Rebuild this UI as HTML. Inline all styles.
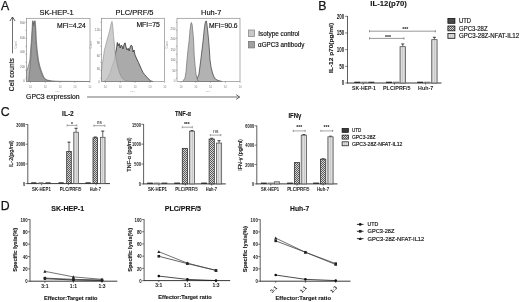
<!DOCTYPE html>
<html><head><meta charset="utf-8"><style>
html,body{margin:0;padding:0;background:#fff;width:520px;height:302px;overflow:hidden}
svg{display:block;will-change:transform;filter:blur(0.3px)}
text{font-family:"Liberation Sans", sans-serif;}
</style></head><body>
<svg width="520" height="302" viewBox="0 0 520 302">
<defs>
<pattern id="hatch" width="2" height="2" patternUnits="userSpaceOnUse">
<rect width="2" height="2" fill="#d6d6d6"/><rect width="1" height="1" fill="#5a5a5a"/><rect x="1" y="1" width="1" height="1" fill="#5a5a5a"/>
</pattern>
<pattern id="lite" width="2" height="2" patternUnits="userSpaceOnUse">
<rect width="2" height="2" fill="#dedede"/><rect width="0.7" height="2" fill="#c2c2c2"/>
</pattern>
</defs>
<rect width="520" height="302" fill="#fff"/>
<text x="1.0" y="10.1" font-size="12.3" text-anchor="start" fill="#151515" stroke="#151515" stroke-width="0.25">A</text>
<text x="56.6" y="15.0" font-size="7.7" text-anchor="middle" fill="#151515" textLength="34.3" lengthAdjust="spacingAndGlyphs" stroke="#151515" stroke-width="0.18">SK-HEP-1</text>
<text x="134.5" y="15.0" font-size="7.7" text-anchor="middle" fill="#151515" textLength="38.0" lengthAdjust="spacingAndGlyphs" stroke="#151515" stroke-width="0.18">PLC/PRF/5</text>
<text x="211.2" y="14.8" font-size="7.7" text-anchor="middle" fill="#151515" textLength="20.2" lengthAdjust="spacingAndGlyphs" stroke="#151515" stroke-width="0.18">Huh-7</text>
<polygon points="26.5,81.5 26.5,71 27.5,69 28.7,65 29.9,60 30.6,50 31.4,40 32,30 32.5,22 32.9,20.6 33.5,24 34.3,22 35,20.6 35.5,24 35.9,30 36.3,40 37.2,50 38.5,60 39.5,65 41,70 42.5,74 44.3,78 47,80 52,81 60,81.3 89.5,81.5" fill="#bdbdbd" stroke="#6a6a6a" stroke-width="0.7" fill-opacity="1" stroke-linejoin="round"/>
<polygon points="28.5,81.5 29.5,72 30.5,62 31.2,50 31.9,40 32.5,30 32.9,21.5 33.4,26 34.1,23 34.8,21.5 35.3,28 35.8,40 36.6,50 37.8,60 39.5,67 41,72 43,77 46,80 50,81 55,81.5" fill="#9a9a9a" stroke="#555" stroke-width="0.5" fill-opacity="1" stroke-linejoin="round"/>
<polygon points="103.5,81.5 106,80 108,77 110.3,72 112.3,66 114.2,60 115.4,54 116.6,48 117.3,42.5 118.2,46 119.2,43.5 120.2,48 121.2,45 122,45.9 123,49 124.2,44 125.1,42.8 126,47 127,50 128.2,48.2 129.2,51 130.2,47 131.2,45.1 132.1,46 133,52 134,50 135,55 136.8,59.1 138.5,62.5 140,66 141.4,69.2 143,72.5 144.5,74.5 146.1,76.2 148,78.5 150.8,81 153,81.5" fill="#aaaaaa" stroke="#333333" stroke-width="0.8" fill-opacity="1" stroke-linejoin="round"/>
<polygon points="101.5,81.5 101.5,70 103,60 104.4,50 106,44 107.6,38 109,33 109.8,30 111,24 112,21.4 112.8,26 113.5,35.6 114.2,42 114.8,49.7 116.4,60.7 118,68 120,74 122,78 125,80.5 130,81.5" fill="#c4c4c4" stroke="#8a8a8a" stroke-width="0.6" fill-opacity="0.85" stroke-linejoin="round"/>
<polygon points="194,81.5 197,79 199,74 200,66 200.8,60 202,50 203.2,40 204.2,30 205,24 205.6,21.4 206.4,21 207,25 207.8,32 208.6,40 209.4,50 210,60 211,67 212.5,73 214,77 215.4,79 218,80.5 222,81.5" fill="#b2b2b2" stroke="#4a4a4a" stroke-width="0.8" fill-opacity="1" stroke-linejoin="round"/>
<polygon points="182.6,81.5 185,78 186,72 187,60 188,50 189.2,40 190,30 190.8,24 191.4,22.5 192.2,25 192.9,32 193.6,40 194.2,55 195,65 196,74 196.8,78 198,81 200,81.5" fill="#b8b8b8" stroke="#707070" stroke-width="0.7" fill-opacity="1" stroke-linejoin="round"/>
<rect x="26.5" y="18.3" width="63.5" height="63.2" fill="none" stroke="#8a8a8a" stroke-width="0.7"/>
<line x1="25.3" y1="22.3" x2="26.5" y2="22.3" stroke="#777" stroke-width="0.5"/>
<line x1="25.3" y1="30.3" x2="26.5" y2="30.3" stroke="#777" stroke-width="0.5"/>
<line x1="25.3" y1="38.3" x2="26.5" y2="38.3" stroke="#777" stroke-width="0.5"/>
<line x1="25.3" y1="46.3" x2="26.5" y2="46.3" stroke="#777" stroke-width="0.5"/>
<line x1="25.3" y1="54.3" x2="26.5" y2="54.3" stroke="#777" stroke-width="0.5"/>
<line x1="25.3" y1="62.3" x2="26.5" y2="62.3" stroke="#777" stroke-width="0.5"/>
<line x1="25.3" y1="70.3" x2="26.5" y2="70.3" stroke="#777" stroke-width="0.5"/>
<line x1="25.3" y1="78.3" x2="26.5" y2="78.3" stroke="#777" stroke-width="0.5"/>
<line x1="30.5" y1="81.5" x2="30.5" y2="82.9" stroke="#777" stroke-width="0.5"/>
<text x="30.5" y="87.8" font-size="2.8" text-anchor="middle" fill="#888">10</text>
<line x1="45.3" y1="81.5" x2="45.3" y2="82.9" stroke="#777" stroke-width="0.5"/>
<text x="45.3" y="87.8" font-size="2.8" text-anchor="middle" fill="#888">10</text>
<line x1="60.1" y1="81.5" x2="60.1" y2="82.9" stroke="#777" stroke-width="0.5"/>
<text x="60.1" y="87.8" font-size="2.8" text-anchor="middle" fill="#888">10</text>
<line x1="74.9" y1="81.5" x2="74.9" y2="82.9" stroke="#777" stroke-width="0.5"/>
<text x="74.9" y="87.8" font-size="2.8" text-anchor="middle" fill="#888">10</text>
<line x1="89.7" y1="81.5" x2="89.7" y2="82.9" stroke="#777" stroke-width="0.5"/>
<text x="89.7" y="87.8" font-size="2.8" text-anchor="middle" fill="#888">10</text>
<text x="58.25" y="92.3" font-size="2.4" text-anchor="middle" fill="#999">FS-A</text>
<rect x="101.5" y="18.3" width="63.0" height="63.2" fill="none" stroke="#8a8a8a" stroke-width="0.7"/>
<line x1="100.3" y1="22.3" x2="101.5" y2="22.3" stroke="#777" stroke-width="0.5"/>
<line x1="100.3" y1="30.3" x2="101.5" y2="30.3" stroke="#777" stroke-width="0.5"/>
<line x1="100.3" y1="38.3" x2="101.5" y2="38.3" stroke="#777" stroke-width="0.5"/>
<line x1="100.3" y1="46.3" x2="101.5" y2="46.3" stroke="#777" stroke-width="0.5"/>
<line x1="100.3" y1="54.3" x2="101.5" y2="54.3" stroke="#777" stroke-width="0.5"/>
<line x1="100.3" y1="62.3" x2="101.5" y2="62.3" stroke="#777" stroke-width="0.5"/>
<line x1="100.3" y1="70.3" x2="101.5" y2="70.3" stroke="#777" stroke-width="0.5"/>
<line x1="100.3" y1="78.3" x2="101.5" y2="78.3" stroke="#777" stroke-width="0.5"/>
<line x1="105.5" y1="81.5" x2="105.5" y2="82.9" stroke="#777" stroke-width="0.5"/>
<text x="105.5" y="87.8" font-size="2.8" text-anchor="middle" fill="#888">10</text>
<line x1="120.3" y1="81.5" x2="120.3" y2="82.9" stroke="#777" stroke-width="0.5"/>
<text x="120.3" y="87.8" font-size="2.8" text-anchor="middle" fill="#888">10</text>
<line x1="135.1" y1="81.5" x2="135.1" y2="82.9" stroke="#777" stroke-width="0.5"/>
<text x="135.1" y="87.8" font-size="2.8" text-anchor="middle" fill="#888">10</text>
<line x1="149.9" y1="81.5" x2="149.9" y2="82.9" stroke="#777" stroke-width="0.5"/>
<text x="149.9" y="87.8" font-size="2.8" text-anchor="middle" fill="#888">10</text>
<line x1="164.7" y1="81.5" x2="164.7" y2="82.9" stroke="#777" stroke-width="0.5"/>
<text x="164.7" y="87.8" font-size="2.8" text-anchor="middle" fill="#888">10</text>
<text x="133.0" y="92.3" font-size="2.4" text-anchor="middle" fill="#999">FS-A</text>
<rect x="177.0" y="18.3" width="63.0" height="63.2" fill="none" stroke="#8a8a8a" stroke-width="0.7"/>
<line x1="175.8" y1="22.3" x2="177.0" y2="22.3" stroke="#777" stroke-width="0.5"/>
<line x1="175.8" y1="30.3" x2="177.0" y2="30.3" stroke="#777" stroke-width="0.5"/>
<line x1="175.8" y1="38.3" x2="177.0" y2="38.3" stroke="#777" stroke-width="0.5"/>
<line x1="175.8" y1="46.3" x2="177.0" y2="46.3" stroke="#777" stroke-width="0.5"/>
<line x1="175.8" y1="54.3" x2="177.0" y2="54.3" stroke="#777" stroke-width="0.5"/>
<line x1="175.8" y1="62.3" x2="177.0" y2="62.3" stroke="#777" stroke-width="0.5"/>
<line x1="175.8" y1="70.3" x2="177.0" y2="70.3" stroke="#777" stroke-width="0.5"/>
<line x1="175.8" y1="78.3" x2="177.0" y2="78.3" stroke="#777" stroke-width="0.5"/>
<line x1="181.0" y1="81.5" x2="181.0" y2="82.9" stroke="#777" stroke-width="0.5"/>
<text x="181.0" y="87.8" font-size="2.8" text-anchor="middle" fill="#888">10</text>
<line x1="195.8" y1="81.5" x2="195.8" y2="82.9" stroke="#777" stroke-width="0.5"/>
<text x="195.8" y="87.8" font-size="2.8" text-anchor="middle" fill="#888">10</text>
<line x1="210.6" y1="81.5" x2="210.6" y2="82.9" stroke="#777" stroke-width="0.5"/>
<text x="210.6" y="87.8" font-size="2.8" text-anchor="middle" fill="#888">10</text>
<line x1="225.4" y1="81.5" x2="225.4" y2="82.9" stroke="#777" stroke-width="0.5"/>
<text x="225.4" y="87.8" font-size="2.8" text-anchor="middle" fill="#888">10</text>
<line x1="240.2" y1="81.5" x2="240.2" y2="82.9" stroke="#777" stroke-width="0.5"/>
<text x="240.2" y="87.8" font-size="2.8" text-anchor="middle" fill="#888">10</text>
<text x="208.5" y="92.3" font-size="2.4" text-anchor="middle" fill="#999">FS-A</text>
<text x="24.9" y="24.0" font-size="2.9" text-anchor="end" fill="#666">800</text>
<text x="24.9" y="38.5" font-size="2.9" text-anchor="end" fill="#666">600</text>
<text x="24.9" y="53.0" font-size="2.9" text-anchor="end" fill="#666">400</text>
<text x="24.9" y="67.5" font-size="2.9" text-anchor="end" fill="#666">200</text>
<text x="24.9" y="82.0" font-size="2.9" text-anchor="end" fill="#666">0</text>
<text x="17.0" y="45" font-size="2.6" text-anchor="middle" fill="#999" transform="rotate(-90 17.0 45)">Count</text>
<text x="99.9" y="31.0" font-size="2.9" text-anchor="end" fill="#666">120</text>
<text x="99.9" y="44.4" font-size="2.9" text-anchor="end" fill="#666">90</text>
<text x="99.9" y="57.0" font-size="2.9" text-anchor="end" fill="#666">60</text>
<text x="99.9" y="70.0" font-size="2.9" text-anchor="end" fill="#666">30</text>
<text x="99.9" y="82.6" font-size="2.9" text-anchor="end" fill="#666">0</text>
<text x="92.0" y="45" font-size="2.6" text-anchor="middle" fill="#999" transform="rotate(-90 92.0 45)">Count</text>
<text x="175.4" y="29.8" font-size="2.9" text-anchor="end" fill="#666">250</text>
<text x="175.4" y="40.3" font-size="2.9" text-anchor="end" fill="#666">200</text>
<text x="175.4" y="50.7" font-size="2.9" text-anchor="end" fill="#666">150</text>
<text x="175.4" y="61.2" font-size="2.9" text-anchor="end" fill="#666">100</text>
<text x="175.4" y="71.7" font-size="2.9" text-anchor="end" fill="#666">50</text>
<text x="175.4" y="82.1" font-size="2.9" text-anchor="end" fill="#666">0</text>
<text x="167.5" y="45" font-size="2.6" text-anchor="middle" fill="#999" transform="rotate(-90 167.5 45)">Count</text>
<text x="57.1" y="27.5" font-size="6.9" text-anchor="start" fill="#151515" textLength="28.8" lengthAdjust="spacingAndGlyphs" stroke="#151515" stroke-width="0.18">MFI=4.24</text>
<text x="136.4" y="27.4" font-size="6.9" text-anchor="start" fill="#151515" textLength="23.4" lengthAdjust="spacingAndGlyphs" stroke="#151515" stroke-width="0.18">MFI=75</text>
<text x="209.0" y="27.7" font-size="6.9" text-anchor="start" fill="#151515" textLength="28.6" lengthAdjust="spacingAndGlyphs" stroke="#151515" stroke-width="0.18">MFI=90.6</text>
<line x1="12.5" y1="53.4" x2="12.5" y2="17.2" stroke="#333" stroke-width="0.7"/>
<polyline points="9.90,21.00 12.50,17.00 15.10,21.00" fill="none" stroke="#333" stroke-width="0.8" stroke-linejoin="round"/>
<text x="13.9" y="74.6" font-size="6.7" text-anchor="middle" fill="#151515" transform="rotate(-90 13.9 74.6)" textLength="33.1" lengthAdjust="spacingAndGlyphs" stroke="#151515" stroke-width="0.18">Cell counts</text>
<text x="26.1" y="99.1" font-size="6.8" text-anchor="start" fill="#151515" textLength="53.4" lengthAdjust="spacingAndGlyphs" stroke="#151515" stroke-width="0.18">GPC3 expression</text>
<line x1="87" y1="97" x2="239.5" y2="97" stroke="#333" stroke-width="0.7"/>
<polyline points="236.00,94.50 239.70,97.00 236.00,99.50" fill="none" stroke="#333" stroke-width="0.7" stroke-linejoin="round"/>
<rect x="248.40" y="30.00" width="6.20" height="6.50" fill="#c8c8c8" stroke="#8a8a8a" stroke-width="0.8"/>
<rect x="248.40" y="41.40" width="6.20" height="6.50" fill="#a0a0a0" stroke="#777" stroke-width="0.8"/>
<text x="258.3" y="35.9" font-size="6.35" text-anchor="start" fill="#151515" textLength="41.2" lengthAdjust="spacingAndGlyphs" stroke="#151515" stroke-width="0.18">Isotype control</text>
<text x="258.1" y="47.3" font-size="6.35" text-anchor="start" fill="#151515" textLength="46.2" lengthAdjust="spacingAndGlyphs" stroke="#151515" stroke-width="0.18">αGPC3 antibody</text>
<text x="318.3" y="10.2" font-size="12.3" text-anchor="start" fill="#151515" stroke="#151515" stroke-width="0.25">B</text>
<text x="370.3" y="6.3" font-size="8.0" text-anchor="start" font-weight="bold" fill="#151515" textLength="36.6" lengthAdjust="spacingAndGlyphs" stroke="#151515" stroke-width="0.12">IL-12(p70)</text>
<line x1="347.5" y1="16.0" x2="347.5" y2="83.4" stroke="#555" stroke-width="0.95"/>
<line x1="347.1" y1="83.0" x2="441.5" y2="83.0" stroke="#222" stroke-width="0.9"/>
<line x1="345.2" y1="83.0" x2="347.5" y2="83.0" stroke="#444" stroke-width="0.7"/>
<text x="344.2" y="85.2" font-size="6.4" text-anchor="end" font-weight="bold" fill="#151515" textLength="2.5" lengthAdjust="spacingAndGlyphs">0</text>
<line x1="345.2" y1="66.325" x2="347.5" y2="66.325" stroke="#444" stroke-width="0.7"/>
<text x="344.2" y="68.525" font-size="6.4" text-anchor="end" font-weight="bold" fill="#151515" textLength="5.0" lengthAdjust="spacingAndGlyphs">50</text>
<line x1="345.2" y1="49.65" x2="347.5" y2="49.65" stroke="#444" stroke-width="0.7"/>
<text x="344.2" y="51.85" font-size="6.4" text-anchor="end" font-weight="bold" fill="#151515" textLength="7.5" lengthAdjust="spacingAndGlyphs">100</text>
<line x1="345.2" y1="32.974999999999994" x2="347.5" y2="32.974999999999994" stroke="#444" stroke-width="0.7"/>
<text x="344.2" y="35.175" font-size="6.4" text-anchor="end" font-weight="bold" fill="#151515" textLength="7.5" lengthAdjust="spacingAndGlyphs">150</text>
<line x1="345.2" y1="16.299999999999997" x2="347.5" y2="16.299999999999997" stroke="#444" stroke-width="0.7"/>
<text x="344.2" y="18.499999999999996" font-size="6.4" text-anchor="end" font-weight="bold" fill="#151515" textLength="7.5" lengthAdjust="spacingAndGlyphs">200</text>
<line x1="363.2" y1="83.0" x2="363.2" y2="84.6" stroke="#1a1a1a" stroke-width="0.6"/>
<text x="364.0" y="90.4" font-size="5.6" text-anchor="middle" font-weight="bold" fill="#151515" textLength="23.8" lengthAdjust="spacingAndGlyphs">SK-HEP-1</text>
<rect x="354.30" y="81.70" width="6.00" height="1.30" fill="#2a2a2a" stroke="none" stroke-width="0.8"/>
<rect x="361.30" y="81.70" width="6.00" height="1.30" fill="#777" stroke="none" stroke-width="0.8"/>
<rect x="368.30" y="81.70" width="6.00" height="1.30" fill="#3a3a3a" stroke="none" stroke-width="0.8"/>
<line x1="394.5" y1="83.0" x2="394.5" y2="84.6" stroke="#1a1a1a" stroke-width="0.6"/>
<text x="396.8" y="90.4" font-size="5.6" text-anchor="middle" font-weight="bold" fill="#151515" textLength="27.6" lengthAdjust="spacingAndGlyphs">PLC/PRF/5</text>
<rect x="386.00" y="81.70" width="6.00" height="1.30" fill="#2a2a2a" stroke="none" stroke-width="0.8"/>
<rect x="393.00" y="81.70" width="6.00" height="1.30" fill="#777" stroke="none" stroke-width="0.8"/>
<line x1="402.75" y1="46.6485" x2="402.75" y2="43.9805" stroke="#222" stroke-width="0.7"/>
<line x1="401.25" y1="43.9805" x2="404.25" y2="43.9805" stroke="#222" stroke-width="0.9"/>
<rect x="400.05" y="46.65" width="5.40" height="36.35" fill="url(#lite)" stroke="#555" stroke-width="0.8"/>
<line x1="425.6" y1="83.0" x2="425.6" y2="84.6" stroke="#1a1a1a" stroke-width="0.6"/>
<text x="425.6" y="90.4" font-size="5.6" text-anchor="middle" font-weight="bold" fill="#151515" textLength="15.0" lengthAdjust="spacingAndGlyphs">Huh-7</text>
<rect x="417.20" y="81.70" width="6.00" height="1.30" fill="#2a2a2a" stroke="none" stroke-width="0.8"/>
<rect x="424.20" y="81.70" width="6.00" height="1.30" fill="#777" stroke="none" stroke-width="0.8"/>
<line x1="434.4" y1="39.644999999999996" x2="434.4" y2="37.3105" stroke="#222" stroke-width="0.7"/>
<line x1="432.9" y1="37.3105" x2="435.9" y2="37.3105" stroke="#222" stroke-width="0.9"/>
<rect x="431.70" y="39.64" width="5.40" height="43.36" fill="url(#lite)" stroke="#555" stroke-width="0.8"/>
<text x="333.3" y="47.9" font-size="5.8" text-anchor="middle" font-weight="bold" fill="#151515" transform="rotate(-90 333.3 47.9)" textLength="50.0" lengthAdjust="spacingAndGlyphs" stroke="#151515" stroke-width="0.12">IL-12 p70(pg/ml)</text>
<line x1="369.5" y1="31.2" x2="435.4" y2="31.2" stroke="#555" stroke-width="0.6"/>
<line x1="369.5" y1="30.099999999999998" x2="369.5" y2="32.3" stroke="#555" stroke-width="0.6"/>
<line x1="435.4" y1="30.099999999999998" x2="435.4" y2="32.3" stroke="#555" stroke-width="0.6"/>
<text x="405.2" y="30.7" font-size="5.2" text-anchor="middle" font-weight="bold" fill="#151515">***</text>
<line x1="369.5" y1="38.4" x2="404.0" y2="38.4" stroke="#555" stroke-width="0.6"/>
<line x1="369.5" y1="37.3" x2="369.5" y2="39.5" stroke="#555" stroke-width="0.6"/>
<line x1="404.0" y1="37.3" x2="404.0" y2="39.5" stroke="#555" stroke-width="0.6"/>
<text x="388.0" y="38.9" font-size="5.2" text-anchor="middle" font-weight="bold" fill="#151515">***</text>
<rect x="447.90" y="18.50" width="7.00" height="4.80" fill="#4a4a4a" stroke="#111" stroke-width="0.8"/>
<text x="459.0" y="23.25" font-size="6.4" text-anchor="start" fill="#151515" textLength="12.0" lengthAdjust="spacingAndGlyphs" stroke="#151515" stroke-width="0.18">UTD</text>
<rect x="447.90" y="26.00" width="7.00" height="4.80" fill="url(#hatch)" stroke="#111" stroke-width="0.8"/>
<text x="459.0" y="30.85" font-size="6.4" text-anchor="start" fill="#151515" textLength="28.6" lengthAdjust="spacingAndGlyphs" stroke="#151515" stroke-width="0.18">GPC3-28Z</text>
<rect x="447.90" y="33.50" width="7.00" height="4.80" fill="url(#lite)" stroke="#111" stroke-width="0.8"/>
<text x="459.0" y="38.45" font-size="6.4" text-anchor="start" fill="#151515" textLength="60.2" lengthAdjust="spacingAndGlyphs" stroke="#151515" stroke-width="0.18">GPC3-28Z-NFAT-IL12</text>
<text x="0.8" y="115.5" font-size="12.3" text-anchor="start" fill="#151515" stroke="#151515" stroke-width="0.25">C</text>
<line x1="27.8" y1="124.2" x2="27.8" y2="184.0" stroke="#555" stroke-width="0.95"/>
<line x1="27.400000000000002" y1="183.6" x2="110.0" y2="183.6" stroke="#222" stroke-width="0.9"/>
<line x1="25.5" y1="183.6" x2="27.8" y2="183.6" stroke="#444" stroke-width="0.7"/>
<text x="25.1" y="185.79999999999998" font-size="5.6" text-anchor="end" font-weight="bold" fill="#151515" textLength="2.2" lengthAdjust="spacingAndGlyphs">0</text>
<line x1="25.5" y1="163.9" x2="27.8" y2="163.9" stroke="#444" stroke-width="0.7"/>
<text x="25.1" y="166.1" font-size="5.6" text-anchor="end" font-weight="bold" fill="#151515" textLength="8.8" lengthAdjust="spacingAndGlyphs">1000</text>
<line x1="25.5" y1="144.2" x2="27.8" y2="144.2" stroke="#444" stroke-width="0.7"/>
<text x="25.1" y="146.39999999999998" font-size="5.6" text-anchor="end" font-weight="bold" fill="#151515" textLength="8.8" lengthAdjust="spacingAndGlyphs">2000</text>
<line x1="25.5" y1="124.5" x2="27.8" y2="124.5" stroke="#444" stroke-width="0.7"/>
<text x="25.1" y="126.7" font-size="5.6" text-anchor="end" font-weight="bold" fill="#151515" textLength="8.8" lengthAdjust="spacingAndGlyphs">3000</text>
<line x1="41.6" y1="183.6" x2="41.6" y2="185.2" stroke="#1a1a1a" stroke-width="0.6"/>
<text x="41.4" y="191.0" font-size="4.6" text-anchor="middle" font-weight="bold" fill="#151515" textLength="18.8" lengthAdjust="spacingAndGlyphs">SK-HEP1</text>
<rect x="31.20" y="182.30" width="5.20" height="1.30" fill="#2a2a2a" stroke="none" stroke-width="0.8"/>
<rect x="38.40" y="182.30" width="5.20" height="1.30" fill="#777" stroke="none" stroke-width="0.8"/>
<rect x="45.40" y="182.30" width="5.20" height="1.30" fill="#3a3a3a" stroke="none" stroke-width="0.8"/>
<line x1="68.4" y1="183.6" x2="68.4" y2="185.2" stroke="#1a1a1a" stroke-width="0.6"/>
<text x="70.6" y="191.0" font-size="4.6" text-anchor="middle" font-weight="bold" fill="#151515" textLength="21.8" lengthAdjust="spacingAndGlyphs">PLC/PRF/5</text>
<rect x="58.50" y="182.30" width="5.20" height="1.30" fill="#2a2a2a" stroke="none" stroke-width="0.8"/>
<line x1="69.0" y1="151.4102" x2="69.0" y2="142.1512" stroke="#222" stroke-width="0.7"/>
<line x1="67.5" y1="142.1512" x2="70.5" y2="142.1512" stroke="#222" stroke-width="0.9"/>
<rect x="66.70" y="151.41" width="4.60" height="32.19" fill="url(#hatch)" stroke="#333" stroke-width="0.8"/>
<line x1="76.05" y1="132.2027" x2="76.05" y2="128.2627" stroke="#222" stroke-width="0.7"/>
<line x1="74.55" y1="128.2627" x2="77.55" y2="128.2627" stroke="#222" stroke-width="0.9"/>
<rect x="73.75" y="132.20" width="4.60" height="51.40" fill="url(#lite)" stroke="#555" stroke-width="0.8"/>
<line x1="96.1" y1="183.6" x2="96.1" y2="185.2" stroke="#1a1a1a" stroke-width="0.6"/>
<text x="95.3" y="191.0" font-size="4.6" text-anchor="middle" font-weight="bold" fill="#151515" textLength="11.0" lengthAdjust="spacingAndGlyphs">Huh-7</text>
<rect x="85.50" y="182.30" width="5.20" height="1.30" fill="#2a2a2a" stroke="none" stroke-width="0.8"/>
<line x1="95.3" y1="137.7975" x2="95.3" y2="137.0095" stroke="#222" stroke-width="0.7"/>
<line x1="93.8" y1="137.0095" x2="96.8" y2="137.0095" stroke="#222" stroke-width="0.9"/>
<rect x="93.00" y="137.80" width="4.60" height="45.80" fill="url(#hatch)" stroke="#333" stroke-width="0.8"/>
<line x1="102.75" y1="137.305" x2="102.75" y2="131.0995" stroke="#222" stroke-width="0.7"/>
<line x1="101.25" y1="131.0995" x2="104.25" y2="131.0995" stroke="#222" stroke-width="0.9"/>
<rect x="100.45" y="137.31" width="4.60" height="46.29" fill="url(#lite)" stroke="#555" stroke-width="0.8"/>
<text x="67.9" y="116.4" font-size="7.0" text-anchor="middle" font-weight="bold" fill="#151515" textLength="11.6" lengthAdjust="spacingAndGlyphs" stroke="#151515" stroke-width="0.12">IL-2</text>
<text x="12.9" y="153.8" font-size="5.6" text-anchor="middle" fill="#151515" transform="rotate(-90 12.9 153.8)" textLength="27.0" lengthAdjust="spacingAndGlyphs" stroke="#151515" stroke-width="0.18">IL-2(pg/ml)</text>
<line x1="143.6" y1="124.0" x2="143.6" y2="184.3" stroke="#555" stroke-width="0.95"/>
<line x1="143.2" y1="183.9" x2="225.8" y2="183.9" stroke="#222" stroke-width="0.9"/>
<line x1="141.29999999999998" y1="183.9" x2="143.6" y2="183.9" stroke="#444" stroke-width="0.7"/>
<text x="140.9" y="186.1" font-size="5.6" text-anchor="end" font-weight="bold" fill="#151515" textLength="2.2" lengthAdjust="spacingAndGlyphs">0</text>
<line x1="141.29999999999998" y1="164.03333333333333" x2="143.6" y2="164.03333333333333" stroke="#444" stroke-width="0.7"/>
<text x="140.9" y="166.23333333333332" font-size="5.6" text-anchor="end" font-weight="bold" fill="#151515" textLength="6.6" lengthAdjust="spacingAndGlyphs">500</text>
<line x1="141.29999999999998" y1="144.16666666666669" x2="143.6" y2="144.16666666666669" stroke="#444" stroke-width="0.7"/>
<text x="140.9" y="146.36666666666667" font-size="5.6" text-anchor="end" font-weight="bold" fill="#151515" textLength="8.8" lengthAdjust="spacingAndGlyphs">1000</text>
<line x1="141.29999999999998" y1="124.30000000000001" x2="143.6" y2="124.30000000000001" stroke="#444" stroke-width="0.7"/>
<text x="140.9" y="126.50000000000001" font-size="5.6" text-anchor="end" font-weight="bold" fill="#151515" textLength="8.8" lengthAdjust="spacingAndGlyphs">1500</text>
<line x1="158.95" y1="183.9" x2="158.95" y2="185.5" stroke="#1a1a1a" stroke-width="0.6"/>
<text x="157.5" y="191.0" font-size="4.6" text-anchor="middle" font-weight="bold" fill="#151515" textLength="19.0" lengthAdjust="spacingAndGlyphs">SK-HEP1</text>
<rect x="147.10" y="182.60" width="5.80" height="1.30" fill="#2a2a2a" stroke="none" stroke-width="0.8"/>
<rect x="154.00" y="182.60" width="5.80" height="1.30" fill="#777" stroke="none" stroke-width="0.8"/>
<rect x="161.50" y="182.60" width="5.80" height="1.30" fill="#3a3a3a" stroke="none" stroke-width="0.8"/>
<line x1="185.35" y1="183.9" x2="185.35" y2="185.5" stroke="#1a1a1a" stroke-width="0.6"/>
<text x="186.5" y="191.0" font-size="4.6" text-anchor="middle" font-weight="bold" fill="#151515" textLength="22.5" lengthAdjust="spacingAndGlyphs">PLC/PRF/5</text>
<rect x="174.20" y="182.60" width="5.80" height="1.30" fill="#2a2a2a" stroke="none" stroke-width="0.8"/>
<rect x="182.30" y="148.38" width="5.20" height="35.52" fill="url(#hatch)" stroke="#333" stroke-width="0.8"/>
<line x1="192.0" y1="131.21359999999999" x2="192.0" y2="130.6176" stroke="#222" stroke-width="0.7"/>
<line x1="190.5" y1="130.6176" x2="193.5" y2="130.6176" stroke="#222" stroke-width="0.9"/>
<rect x="189.40" y="131.21" width="5.20" height="52.69" fill="url(#lite)" stroke="#555" stroke-width="0.8"/>
<line x1="211.75" y1="183.9" x2="211.75" y2="185.5" stroke="#1a1a1a" stroke-width="0.6"/>
<text x="211.4" y="191.0" font-size="4.6" text-anchor="middle" font-weight="bold" fill="#151515" textLength="11.3" lengthAdjust="spacingAndGlyphs">Huh-7</text>
<rect x="201.20" y="182.60" width="5.80" height="1.30" fill="#2a2a2a" stroke="none" stroke-width="0.8"/>
<line x1="211.7" y1="139.0808" x2="211.7" y2="138.28613333333334" stroke="#222" stroke-width="0.7"/>
<line x1="210.2" y1="138.28613333333334" x2="213.2" y2="138.28613333333334" stroke="#222" stroke-width="0.9"/>
<rect x="209.10" y="139.08" width="5.20" height="44.82" fill="url(#hatch)" stroke="#333" stroke-width="0.8"/>
<line x1="219.05" y1="143.09386666666666" x2="219.05" y2="140.70986666666667" stroke="#222" stroke-width="0.7"/>
<line x1="217.55" y1="140.70986666666667" x2="220.55" y2="140.70986666666667" stroke="#222" stroke-width="0.9"/>
<rect x="216.45" y="143.09" width="5.20" height="40.81" fill="url(#lite)" stroke="#555" stroke-width="0.8"/>
<text x="182.9" y="116.3" font-size="7.0" text-anchor="middle" font-weight="bold" fill="#151515" textLength="16.0" lengthAdjust="spacingAndGlyphs" stroke="#151515" stroke-width="0.12">TNF-α</text>
<text x="130.6" y="154.5" font-size="5.5" text-anchor="middle" fill="#151515" transform="rotate(-90 130.6 154.5)" textLength="34.3" lengthAdjust="spacingAndGlyphs" stroke="#151515" stroke-width="0.18">TNF-α (pg/ml)</text>
<line x1="256.8" y1="125.5" x2="256.8" y2="184.3" stroke="#555" stroke-width="0.95"/>
<line x1="256.40000000000003" y1="183.9" x2="337.5" y2="183.9" stroke="#222" stroke-width="0.9"/>
<line x1="254.5" y1="183.9" x2="256.8" y2="183.9" stroke="#444" stroke-width="0.7"/>
<text x="254.10000000000002" y="186.1" font-size="5.6" text-anchor="end" font-weight="bold" fill="#151515" textLength="2.2" lengthAdjust="spacingAndGlyphs">0</text>
<line x1="254.5" y1="164.53333333333333" x2="256.8" y2="164.53333333333333" stroke="#444" stroke-width="0.7"/>
<text x="254.10000000000002" y="166.73333333333332" font-size="5.6" text-anchor="end" font-weight="bold" fill="#151515" textLength="8.8" lengthAdjust="spacingAndGlyphs">2000</text>
<line x1="254.5" y1="145.16666666666666" x2="256.8" y2="145.16666666666666" stroke="#444" stroke-width="0.7"/>
<text x="254.10000000000002" y="147.36666666666665" font-size="5.6" text-anchor="end" font-weight="bold" fill="#151515" textLength="8.8" lengthAdjust="spacingAndGlyphs">4000</text>
<line x1="254.5" y1="125.79999999999998" x2="256.8" y2="125.79999999999998" stroke="#444" stroke-width="0.7"/>
<text x="254.10000000000002" y="127.99999999999999" font-size="5.6" text-anchor="end" font-weight="bold" fill="#151515" textLength="8.8" lengthAdjust="spacingAndGlyphs">6000</text>
<line x1="270.8" y1="183.9" x2="270.8" y2="185.5" stroke="#1a1a1a" stroke-width="0.6"/>
<text x="270.0" y="190.6" font-size="4.6" text-anchor="middle" font-weight="bold" fill="#151515" textLength="18.0" lengthAdjust="spacingAndGlyphs">SK-HEP1</text>
<rect x="260.88" y="182.60" width="5.85" height="1.30" fill="#2a2a2a" stroke="none" stroke-width="0.8"/>
<rect x="267.88" y="182.60" width="5.85" height="1.30" fill="#777" stroke="none" stroke-width="0.8"/>
<rect x="274.27" y="181.80" width="5.25" height="2.10" fill="url(#lite)" stroke="#555" stroke-width="0.8"/>
<line x1="297.0" y1="183.9" x2="297.0" y2="185.5" stroke="#1a1a1a" stroke-width="0.6"/>
<text x="298.3" y="190.6" font-size="4.6" text-anchor="middle" font-weight="bold" fill="#151515" textLength="22.3" lengthAdjust="spacingAndGlyphs">PLC/PRF/5</text>
<rect x="287.07" y="182.60" width="5.85" height="1.30" fill="#2a2a2a" stroke="none" stroke-width="0.8"/>
<rect x="294.38" y="162.60" width="5.25" height="21.30" fill="url(#hatch)" stroke="#333" stroke-width="0.8"/>
<line x1="303.85" y1="135.19283333333334" x2="303.85" y2="134.61183333333332" stroke="#222" stroke-width="0.7"/>
<line x1="302.35" y1="134.61183333333332" x2="305.35" y2="134.61183333333332" stroke="#222" stroke-width="0.9"/>
<rect x="301.23" y="135.19" width="5.25" height="48.71" fill="url(#lite)" stroke="#555" stroke-width="0.8"/>
<line x1="323.15" y1="183.9" x2="323.15" y2="185.5" stroke="#1a1a1a" stroke-width="0.6"/>
<text x="323.0" y="190.6" font-size="4.6" text-anchor="middle" font-weight="bold" fill="#151515" textLength="12.0" lengthAdjust="spacingAndGlyphs">Huh-7</text>
<rect x="313.18" y="182.60" width="5.85" height="1.30" fill="#2a2a2a" stroke="none" stroke-width="0.8"/>
<line x1="323.15" y1="159.2075" x2="323.15" y2="158.82016666666667" stroke="#222" stroke-width="0.7"/>
<line x1="321.65" y1="158.82016666666667" x2="324.65" y2="158.82016666666667" stroke="#222" stroke-width="0.9"/>
<rect x="320.52" y="159.21" width="5.25" height="24.69" fill="url(#hatch)" stroke="#333" stroke-width="0.8"/>
<line x1="330.5" y1="136.80026666666666" x2="330.5" y2="136.21926666666667" stroke="#222" stroke-width="0.7"/>
<line x1="329.0" y1="136.21926666666667" x2="332.0" y2="136.21926666666667" stroke="#222" stroke-width="0.9"/>
<rect x="327.88" y="136.80" width="5.25" height="47.10" fill="url(#lite)" stroke="#555" stroke-width="0.8"/>
<text x="294.9" y="117.9" font-size="6.4" text-anchor="middle" font-weight="bold" fill="#151515" textLength="13.0" lengthAdjust="spacingAndGlyphs" stroke="#151515" stroke-width="0.12">IFNγ</text>
<text x="242.3" y="154.9" font-size="5.5" text-anchor="middle" fill="#151515" transform="rotate(-90 242.3 154.9)" textLength="31.7" lengthAdjust="spacingAndGlyphs" stroke="#151515" stroke-width="0.18">IFN-γ (pg/ml)</text>
<line x1="67.1" y1="125.4" x2="76.8" y2="125.4" stroke="#666" stroke-width="0.6"/>
<line x1="67.1" y1="124.30000000000001" x2="67.1" y2="126.5" stroke="#666" stroke-width="0.6"/>
<line x1="76.8" y1="124.30000000000001" x2="76.8" y2="126.5" stroke="#666" stroke-width="0.6"/>
<text x="72.0" y="125.9" font-size="5.0" text-anchor="middle" font-weight="bold" fill="#151515">*</text>
<line x1="93.9" y1="125.7" x2="104.9" y2="125.7" stroke="#666" stroke-width="0.6"/>
<line x1="93.9" y1="124.60000000000001" x2="93.9" y2="126.8" stroke="#666" stroke-width="0.6"/>
<line x1="104.9" y1="124.60000000000001" x2="104.9" y2="126.8" stroke="#666" stroke-width="0.6"/>
<text x="99.4" y="123.6" font-size="4.8" text-anchor="middle" fill="#151515">ns</text>
<line x1="182.3" y1="127.2" x2="192.3" y2="127.2" stroke="#666" stroke-width="0.6"/>
<line x1="182.3" y1="126.10000000000001" x2="182.3" y2="128.3" stroke="#666" stroke-width="0.6"/>
<line x1="192.3" y1="126.10000000000001" x2="192.3" y2="128.3" stroke="#666" stroke-width="0.6"/>
<text x="186.8" y="126.3" font-size="5.0" text-anchor="middle" font-weight="bold" fill="#151515">***</text>
<line x1="210.3" y1="135.1" x2="220.9" y2="135.1" stroke="#666" stroke-width="0.6"/>
<line x1="210.3" y1="134.0" x2="210.3" y2="136.2" stroke="#666" stroke-width="0.6"/>
<line x1="220.9" y1="134.0" x2="220.9" y2="136.2" stroke="#666" stroke-width="0.6"/>
<text x="215.9" y="132.9" font-size="4.8" text-anchor="middle" fill="#151515">ns</text>
<line x1="293.2" y1="130.9" x2="305.2" y2="130.9" stroke="#666" stroke-width="0.6"/>
<line x1="293.2" y1="129.8" x2="293.2" y2="132.0" stroke="#666" stroke-width="0.6"/>
<line x1="305.2" y1="129.8" x2="305.2" y2="132.0" stroke="#666" stroke-width="0.6"/>
<text x="299.2" y="129.4" font-size="5.0" text-anchor="middle" font-weight="bold" fill="#151515">***</text>
<line x1="320.9" y1="130.9" x2="332.7" y2="130.9" stroke="#666" stroke-width="0.6"/>
<line x1="320.9" y1="129.8" x2="320.9" y2="132.0" stroke="#666" stroke-width="0.6"/>
<line x1="332.7" y1="129.8" x2="332.7" y2="132.0" stroke="#666" stroke-width="0.6"/>
<text x="326.5" y="129.4" font-size="5.0" text-anchor="middle" font-weight="bold" fill="#151515">***</text>
<rect x="342.10" y="128.40" width="6.30" height="4.00" fill="#3a3a3a" stroke="#111" stroke-width="0.7"/>
<text x="351.9" y="132.1" font-size="5.5" text-anchor="start" fill="#151515" textLength="9.3" lengthAdjust="spacingAndGlyphs" stroke="#151515" stroke-width="0.18">UTD</text>
<rect x="342.10" y="135.10" width="6.30" height="4.00" fill="url(#hatch)" stroke="#111" stroke-width="0.7"/>
<text x="351.9" y="138.9" font-size="5.5" text-anchor="start" fill="#151515" textLength="23.7" lengthAdjust="spacingAndGlyphs" stroke="#151515" stroke-width="0.18">GPC3-28Z</text>
<rect x="342.10" y="141.80" width="6.30" height="4.00" fill="url(#lite)" stroke="#111" stroke-width="0.7"/>
<text x="351.9" y="145.7" font-size="5.5" text-anchor="start" fill="#151515" textLength="50.5" lengthAdjust="spacingAndGlyphs" stroke="#151515" stroke-width="0.18">GPC3-28Z-NFAT-IL12</text>
<text x="0.8" y="210.3" font-size="12.3" text-anchor="start" fill="#151515" stroke="#151515" stroke-width="0.25">D</text>
<line x1="30.0" y1="219.2" x2="30.0" y2="281.59999999999997" stroke="#555" stroke-width="0.95"/>
<line x1="29.6" y1="281.2" x2="117.3" y2="281.2" stroke="#222" stroke-width="0.9"/>
<line x1="28.0" y1="281.2" x2="30.0" y2="281.2" stroke="#444" stroke-width="0.7"/>
<text x="27.6" y="283.4" font-size="5.8" text-anchor="end" font-weight="bold" fill="#151515" textLength="2.4" lengthAdjust="spacingAndGlyphs">0</text>
<line x1="28.0" y1="268.86" x2="30.0" y2="268.86" stroke="#444" stroke-width="0.7"/>
<text x="27.6" y="271.06" font-size="5.8" text-anchor="end" font-weight="bold" fill="#151515" textLength="4.8" lengthAdjust="spacingAndGlyphs">20</text>
<line x1="28.0" y1="256.52" x2="30.0" y2="256.52" stroke="#444" stroke-width="0.7"/>
<text x="27.6" y="258.71999999999997" font-size="5.8" text-anchor="end" font-weight="bold" fill="#151515" textLength="4.8" lengthAdjust="spacingAndGlyphs">40</text>
<line x1="28.0" y1="244.18" x2="30.0" y2="244.18" stroke="#444" stroke-width="0.7"/>
<text x="27.6" y="246.38" font-size="5.8" text-anchor="end" font-weight="bold" fill="#151515" textLength="4.8" lengthAdjust="spacingAndGlyphs">60</text>
<line x1="28.0" y1="231.84" x2="30.0" y2="231.84" stroke="#444" stroke-width="0.7"/>
<text x="27.6" y="234.04" font-size="5.8" text-anchor="end" font-weight="bold" fill="#151515" textLength="4.8" lengthAdjust="spacingAndGlyphs">80</text>
<line x1="28.0" y1="219.5" x2="30.0" y2="219.5" stroke="#444" stroke-width="0.7"/>
<text x="27.6" y="221.7" font-size="5.8" text-anchor="end" font-weight="bold" fill="#151515" textLength="7.2" lengthAdjust="spacingAndGlyphs">100</text>
<line x1="44.9" y1="281.2" x2="44.9" y2="282.8" stroke="#1a1a1a" stroke-width="0.6"/>
<text x="44.9" y="287.59999999999997" font-size="5.0" text-anchor="middle" font-weight="bold" fill="#151515">3:1</text>
<line x1="73.4" y1="281.2" x2="73.4" y2="282.8" stroke="#1a1a1a" stroke-width="0.6"/>
<text x="73.4" y="287.59999999999997" font-size="5.0" text-anchor="middle" font-weight="bold" fill="#151515">1:1</text>
<line x1="102.0" y1="281.2" x2="102.0" y2="282.8" stroke="#1a1a1a" stroke-width="0.6"/>
<text x="102.0" y="287.59999999999997" font-size="5.0" text-anchor="middle" font-weight="bold" fill="#151515">1:3</text>
<polyline points="44.90,278.73 73.40,279.97 102.00,280.58" fill="none" stroke="#111" stroke-width="0.75" stroke-linejoin="round"/>
<circle cx="44.90" cy="278.73" r="1.3" fill="#111"/>
<circle cx="73.40" cy="279.97" r="1.3" fill="#111"/>
<circle cx="102.00" cy="280.58" r="1.3" fill="#111"/>
<polyline points="44.90,278.12 73.40,279.35 102.00,279.97" fill="none" stroke="#333" stroke-width="0.75" stroke-linejoin="round"/>
<rect x="43.60" y="276.81" width="2.6" height="2.6" fill="#222"/>
<rect x="72.10" y="278.05" width="2.6" height="2.6" fill="#222"/>
<rect x="100.70" y="278.67" width="2.6" height="2.6" fill="#222"/>
<polyline points="44.90,271.33 73.40,276.88 102.00,279.35" fill="none" stroke="#444" stroke-width="0.75" stroke-linejoin="round"/>
<polygon points="44.90,269.77 43.34,272.63 46.46,272.63" fill="#222"/>
<polygon points="73.40,275.32 71.84,278.18 74.96,278.18" fill="#222"/>
<polygon points="102.00,277.79 100.44,280.65 103.56,280.65" fill="#222"/>
<text x="67.7" y="211.1" font-size="7.2" text-anchor="middle" font-weight="bold" fill="#151515" textLength="32.9" lengthAdjust="spacingAndGlyphs" stroke="#151515" stroke-width="0.12">SK-HEP-1</text>
<text x="17.3" y="249.8" font-size="5.65" text-anchor="middle" font-weight="bold" fill="#151515" transform="rotate(-90 17.3 249.8)" textLength="44.0" lengthAdjust="spacingAndGlyphs" stroke="#151515" stroke-width="0.12">Specific lysis(%)</text>
<text x="70.7" y="299.8" font-size="5.64" text-anchor="middle" font-weight="bold" fill="#151515" textLength="53.3" lengthAdjust="spacingAndGlyphs" stroke="#151515" stroke-width="0.12">Effector:Target ratio</text>
<line x1="144.1" y1="219.2" x2="144.1" y2="281.0" stroke="#555" stroke-width="0.95"/>
<line x1="143.7" y1="280.6" x2="230.2" y2="280.6" stroke="#222" stroke-width="0.9"/>
<line x1="142.1" y1="280.6" x2="144.1" y2="280.6" stroke="#444" stroke-width="0.7"/>
<text x="141.7" y="282.8" font-size="5.8" text-anchor="end" font-weight="bold" fill="#151515" textLength="2.4" lengthAdjust="spacingAndGlyphs">0</text>
<line x1="142.1" y1="268.38" x2="144.1" y2="268.38" stroke="#444" stroke-width="0.7"/>
<text x="141.7" y="270.58" font-size="5.8" text-anchor="end" font-weight="bold" fill="#151515" textLength="4.8" lengthAdjust="spacingAndGlyphs">20</text>
<line x1="142.1" y1="256.16" x2="144.1" y2="256.16" stroke="#444" stroke-width="0.7"/>
<text x="141.7" y="258.36" font-size="5.8" text-anchor="end" font-weight="bold" fill="#151515" textLength="4.8" lengthAdjust="spacingAndGlyphs">40</text>
<line x1="142.1" y1="243.94" x2="144.1" y2="243.94" stroke="#444" stroke-width="0.7"/>
<text x="141.7" y="246.14" font-size="5.8" text-anchor="end" font-weight="bold" fill="#151515" textLength="4.8" lengthAdjust="spacingAndGlyphs">60</text>
<line x1="142.1" y1="231.72" x2="144.1" y2="231.72" stroke="#444" stroke-width="0.7"/>
<text x="141.7" y="233.92" font-size="5.8" text-anchor="end" font-weight="bold" fill="#151515" textLength="4.8" lengthAdjust="spacingAndGlyphs">80</text>
<line x1="142.1" y1="219.5" x2="144.1" y2="219.5" stroke="#444" stroke-width="0.7"/>
<text x="141.7" y="221.7" font-size="5.8" text-anchor="end" font-weight="bold" fill="#151515" textLength="7.2" lengthAdjust="spacingAndGlyphs">100</text>
<line x1="158.8" y1="280.6" x2="158.8" y2="282.20000000000005" stroke="#1a1a1a" stroke-width="0.6"/>
<text x="158.8" y="287.0" font-size="5.0" text-anchor="middle" font-weight="bold" fill="#151515">3:1</text>
<line x1="187.4" y1="280.6" x2="187.4" y2="282.20000000000005" stroke="#1a1a1a" stroke-width="0.6"/>
<text x="187.4" y="287.0" font-size="5.0" text-anchor="middle" font-weight="bold" fill="#151515">1:1</text>
<line x1="216.0" y1="280.6" x2="216.0" y2="282.20000000000005" stroke="#1a1a1a" stroke-width="0.6"/>
<text x="216.0" y="287.0" font-size="5.0" text-anchor="middle" font-weight="bold" fill="#151515">1:3</text>
<polyline points="158.80,276.08 187.40,279.38 216.00,280.60" fill="none" stroke="#111" stroke-width="0.75" stroke-linejoin="round"/>
<circle cx="158.80" cy="276.08" r="1.3" fill="#111"/>
<circle cx="187.40" cy="279.38" r="1.3" fill="#111"/>
<circle cx="216.00" cy="280.60" r="1.3" fill="#111"/>
<polyline points="158.80,256.28 187.40,263.61 216.00,270.40" fill="none" stroke="#333" stroke-width="0.75" stroke-linejoin="round"/>
<rect x="157.50" y="254.98" width="2.6" height="2.6" fill="#222"/>
<rect x="186.10" y="262.31" width="2.6" height="2.6" fill="#222"/>
<rect x="214.70" y="269.10" width="2.6" height="2.6" fill="#222"/>
<polyline points="158.80,251.70 187.40,263.13 216.00,270.40" fill="none" stroke="#444" stroke-width="0.75" stroke-linejoin="round"/>
<polygon points="158.80,250.14 157.24,253.00 160.36,253.00" fill="#222"/>
<polygon points="187.40,261.57 185.84,264.43 188.96,264.43" fill="#222"/>
<polygon points="216.00,268.84 214.44,271.70 217.56,271.70" fill="#222"/>
<text x="182.8" y="211.1" font-size="7.2" text-anchor="middle" font-weight="bold" fill="#151515" textLength="36.3" lengthAdjust="spacingAndGlyphs" stroke="#151515" stroke-width="0.12">PLC/PRF/5</text>
<text x="132.2" y="249.8" font-size="5.65" text-anchor="middle" font-weight="bold" fill="#151515" transform="rotate(-90 132.2 249.8)" textLength="44.0" lengthAdjust="spacingAndGlyphs" stroke="#151515" stroke-width="0.12">Specific lysis(%)</text>
<text x="185.0" y="299.4" font-size="5.64" text-anchor="middle" font-weight="bold" fill="#151515" textLength="53.3" lengthAdjust="spacingAndGlyphs" stroke="#151515" stroke-width="0.12">Effector:Target ratio</text>
<line x1="260.2" y1="219.29999999999998" x2="260.2" y2="281.59999999999997" stroke="#555" stroke-width="0.95"/>
<line x1="259.8" y1="281.2" x2="350.5" y2="281.2" stroke="#222" stroke-width="0.9"/>
<line x1="258.2" y1="281.2" x2="260.2" y2="281.2" stroke="#444" stroke-width="0.7"/>
<text x="257.8" y="283.4" font-size="5.8" text-anchor="end" font-weight="bold" fill="#151515" textLength="2.4" lengthAdjust="spacingAndGlyphs">0</text>
<line x1="258.2" y1="268.88" x2="260.2" y2="268.88" stroke="#444" stroke-width="0.7"/>
<text x="257.8" y="271.08" font-size="5.8" text-anchor="end" font-weight="bold" fill="#151515" textLength="4.8" lengthAdjust="spacingAndGlyphs">20</text>
<line x1="258.2" y1="256.56" x2="260.2" y2="256.56" stroke="#444" stroke-width="0.7"/>
<text x="257.8" y="258.76" font-size="5.8" text-anchor="end" font-weight="bold" fill="#151515" textLength="4.8" lengthAdjust="spacingAndGlyphs">40</text>
<line x1="258.2" y1="244.23999999999998" x2="260.2" y2="244.23999999999998" stroke="#444" stroke-width="0.7"/>
<text x="257.8" y="246.43999999999997" font-size="5.8" text-anchor="end" font-weight="bold" fill="#151515" textLength="4.8" lengthAdjust="spacingAndGlyphs">60</text>
<line x1="258.2" y1="231.92" x2="260.2" y2="231.92" stroke="#444" stroke-width="0.7"/>
<text x="257.8" y="234.11999999999998" font-size="5.8" text-anchor="end" font-weight="bold" fill="#151515" textLength="4.8" lengthAdjust="spacingAndGlyphs">80</text>
<line x1="258.2" y1="219.6" x2="260.2" y2="219.6" stroke="#444" stroke-width="0.7"/>
<text x="257.8" y="221.79999999999998" font-size="5.8" text-anchor="end" font-weight="bold" fill="#151515" textLength="7.2" lengthAdjust="spacingAndGlyphs">100</text>
<line x1="275.7" y1="281.2" x2="275.7" y2="282.8" stroke="#1a1a1a" stroke-width="0.6"/>
<text x="0" y="1.7" font-size="5.0" text-anchor="middle" font-weight="bold" fill="#151515" transform="translate(273.60 289.40) rotate(-45)">3:1</text>
<line x1="305.4" y1="281.2" x2="305.4" y2="282.8" stroke="#1a1a1a" stroke-width="0.6"/>
<text x="0" y="1.7" font-size="5.0" text-anchor="middle" font-weight="bold" fill="#151515" transform="translate(303.30 289.40) rotate(-45)">1:1</text>
<line x1="335.7" y1="281.2" x2="335.7" y2="282.8" stroke="#1a1a1a" stroke-width="0.6"/>
<text x="0" y="1.7" font-size="5.0" text-anchor="middle" font-weight="bold" fill="#151515" transform="translate(333.60 289.40) rotate(-45)">1:3</text>
<polyline points="275.70,275.04 305.40,279.35 335.70,280.58" fill="none" stroke="#111" stroke-width="0.75" stroke-linejoin="round"/>
<circle cx="275.70" cy="275.04" r="1.3" fill="#111"/>
<circle cx="305.40" cy="279.35" r="1.3" fill="#111"/>
<circle cx="335.70" cy="280.58" r="1.3" fill="#111"/>
<polyline points="275.70,240.85 305.40,252.25 335.70,263.64" fill="none" stroke="#333" stroke-width="0.75" stroke-linejoin="round"/>
<rect x="274.40" y="239.55" width="2.6" height="2.6" fill="#222"/>
<rect x="304.10" y="250.95" width="2.6" height="2.6" fill="#222"/>
<rect x="334.40" y="262.34" width="2.6" height="2.6" fill="#222"/>
<polyline points="275.70,238.08 305.40,252.25 335.70,264.57" fill="none" stroke="#444" stroke-width="0.75" stroke-linejoin="round"/>
<polygon points="275.70,236.52 274.14,239.38 277.26,239.38" fill="#222"/>
<polygon points="305.40,250.69 303.84,253.55 306.96,253.55" fill="#222"/>
<polygon points="335.70,263.01 334.14,265.87 337.26,265.87" fill="#222"/>
<text x="299.7" y="211.1" font-size="7.2" text-anchor="middle" font-weight="bold" fill="#151515" textLength="19.2" lengthAdjust="spacingAndGlyphs" stroke="#151515" stroke-width="0.12">Huh-7</text>
<text x="247.0" y="249.1" font-size="5.9" text-anchor="middle" font-weight="bold" fill="#151515" transform="rotate(-90 247.0 249.1)" textLength="46.3" lengthAdjust="spacingAndGlyphs" stroke="#151515" stroke-width="0.12">Specific lysis(%)</text>
<text x="303.2" y="299.9" font-size="5.87" text-anchor="middle" font-weight="bold" fill="#151515" textLength="55.6" lengthAdjust="spacingAndGlyphs" stroke="#151515" stroke-width="0.12">Effector:Target ratio</text>
<line x1="356.9" y1="224.4" x2="363.5" y2="224.4" stroke="#222" stroke-width="0.9"/>
<circle cx="360.20" cy="224.40" r="1.35" fill="#111"/>
<text x="367.5" y="226.4" font-size="6.1" text-anchor="start" fill="#151515" textLength="10.9" lengthAdjust="spacingAndGlyphs" stroke="#151515" stroke-width="0.18">UTD</text>
<line x1="356.9" y1="231.3" x2="363.5" y2="231.3" stroke="#222" stroke-width="0.9"/>
<rect x="358.85" y="229.95" width="2.7" height="2.7" fill="#222"/>
<text x="367.5" y="233.4" font-size="6.1" text-anchor="start" fill="#151515" textLength="26.9" lengthAdjust="spacingAndGlyphs" stroke="#151515" stroke-width="0.18">GPC3-28Z</text>
<line x1="356.9" y1="238.6" x2="363.5" y2="238.6" stroke="#222" stroke-width="0.9"/>
<polygon points="360.20,236.98 358.58,239.95 361.82,239.95" fill="#222"/>
<text x="367.5" y="240.6" font-size="6.1" text-anchor="start" fill="#151515" textLength="56.8" lengthAdjust="spacingAndGlyphs" stroke="#151515" stroke-width="0.18">GPC3-28Z-NFAT-IL12</text>
</svg>
</body></html>
